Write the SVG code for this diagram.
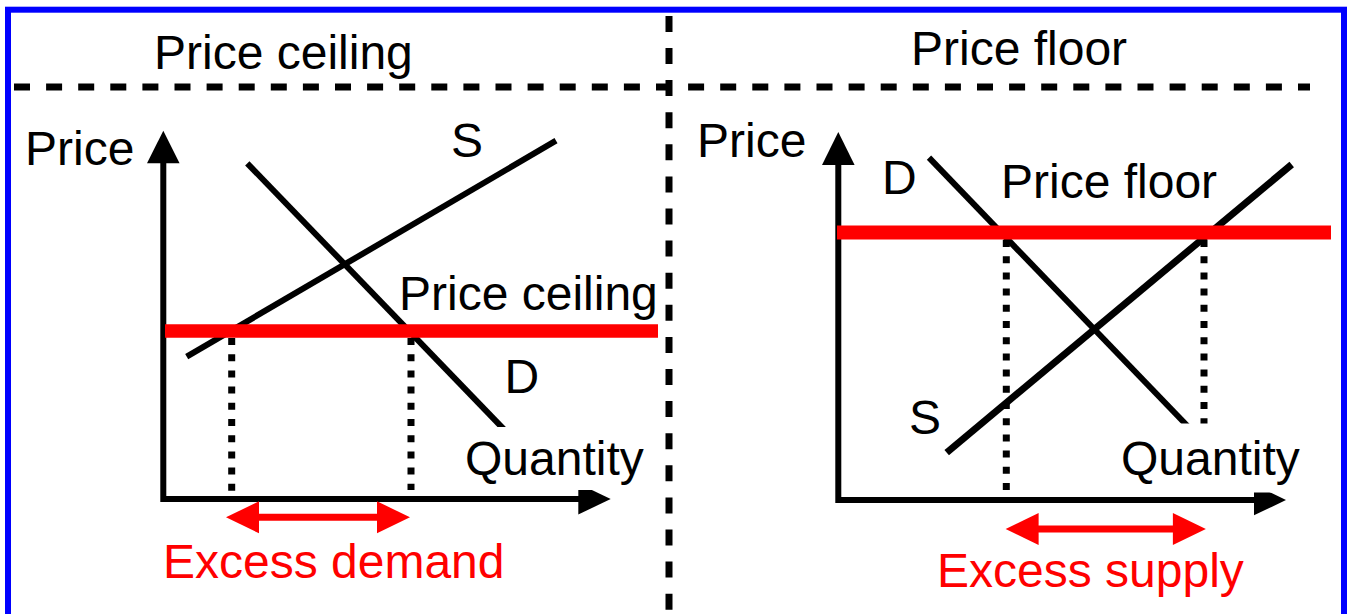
<svg xmlns="http://www.w3.org/2000/svg" width="1354" height="614" viewBox="0 0 1354 614">
<defs>
<style>
text{font-family:"Liberation Sans",Arial,sans-serif;font-size:48px;fill:#000}
.red{fill:#ff0000}
.ax{stroke:#000;stroke-width:6;fill:none;stroke-linejoin:miter}
.curve{stroke:#000;stroke-width:6;fill:none}
.dot{stroke:#000;stroke-width:7;stroke-dasharray:7 9.2;fill:none}
.cap{stroke:#ff0000;stroke-width:13.5;fill:none}
.div{stroke:#000;stroke-width:7;stroke-dasharray:16 16.1;fill:none}
.mask{fill:#fff}
</style>
</defs>
<rect width="1354" height="614" fill="#fff"/>
<g id="frame">
<rect x="8" y="9.7" width="1336" height="640" fill="none" stroke="#0000ff" stroke-width="6"/>
</g>
<g id="dividers">
<line x1="14" y1="87" x2="1310" y2="87" class="div"/>
<line x1="669" y1="15.9" x2="669" y2="614" class="div"/>
</g>
<g id="titles">
<text x="154" y="69">Price ceiling</text>
<text x="911" y="65">Price floor</text>
</g>
<g id="ceiling-chart">
<g id="ceiling-axes">
<polyline class="ax" points="163.3,160 163.3,499 582,499"/>
<polygon points="163.3,130.7 147,163.3 179.6,163.3"/>
<polygon points="610.7,499 578.3,483.5 578.3,514.5"/>
<text x="25" y="165">Price</text>
</g>
<g id="ceiling-supply">
<line class="curve" x1="186.7" y1="356.7" x2="556" y2="140.7"/>
<text x="451" y="157">S</text>
</g>
<g id="ceiling-demand">
<line class="curve" x1="247.3" y1="163.3" x2="520" y2="446"/>
<text x="504.5" y="393">D</text>
</g>
<g id="ceiling-line">
<line class="cap" x1="165" y1="331" x2="658" y2="331"/>
<text x="399" y="310">Price ceiling</text>
</g>
<g id="ceiling-qty">
<rect class="mask" x="462" y="427" width="184" height="63"/>
<text x="465" y="475">Quantity</text>
</g>
<g id="ceiling-excess">
<line class="dot" x1="231.7" y1="338" x2="231.7" y2="498"/>
<line class="dot" x1="411" y1="338" x2="411" y2="490"/>
<line x1="255" y1="517.3" x2="381" y2="517.3" stroke="#ff0000" stroke-width="7"/>
<polygon class="red" points="226,517.3 259,501.3 259,533.3"/>
<polygon class="red" points="410,517.3 377,501.3 377,533.3"/>
<text class="red" x="163" y="578">Excess demand</text>
</g>
</g>
<g id="floor-chart">
<g id="floor-axes">
<polyline class="ax" points="838.3,160 838.3,500 1258,500"/>
<polygon points="838.3,132 822,165 854.6,165"/>
<polygon points="1286,500 1254,484.7 1254,515.3"/>
<text x="697" y="157">Price</text>
</g>
<g id="floor-demand">
<line class="curve" x1="929" y1="157.7" x2="1200" y2="439"/>
<text x="882" y="194">D</text>
</g>
<g id="floor-supply">
<line class="curve" style="stroke-width:7" x1="946.7" y1="452.6" x2="1291.7" y2="164.5"/>
<text x="909" y="434">S</text>
</g>
<g id="floor-line">
<line class="cap" x1="837" y1="232.5" x2="1331" y2="232.5" style="stroke-width:14"/>
<text x="1001" y="197.5">Price floor</text>
</g>
<g id="floor-excess">
<line class="dot" x1="1006.3" y1="240" x2="1006.3" y2="500"/>
<line class="dot" x1="1204" y1="240" x2="1204" y2="497"/>
<line x1="1035" y1="529" x2="1177" y2="529" stroke="#ff0000" stroke-width="7"/>
<polygon class="red" points="1005.6,529 1038.6,513 1038.6,545"/>
<polygon class="red" points="1205.9,529 1172.9,513 1172.9,545"/>
<text class="red" x="937" y="587">Excess supply</text>
</g>
<g id="floor-qty">
<rect class="mask" x="1118" y="423.5" width="182" height="69"/>
<text x="1121" y="475">Quantity</text>
</g>
</g>
</svg>
